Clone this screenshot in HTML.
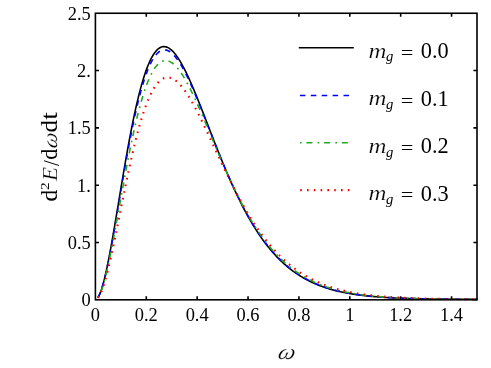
<!DOCTYPE html>
<html><head><meta charset="utf-8"><title>plot</title>
<style>
html,body{margin:0;padding:0;background:#fff;}
svg{display:block;}
text{font-family:"Liberation Serif",serif;fill:#000;}
.t{font-size:18.4px;}
.i{font-style:italic;}
.cm{stroke:#fff;stroke-width:0.22px;}
</style></head><body>
<svg style="will-change:transform" width="491" height="368" viewBox="0 0 491 368">
<rect width="491" height="368" fill="#fff"/>
<path d="M97.85 297.60 L98.80 296.04 L99.74 294.05 L100.69 291.66 L101.64 288.89 L102.59 285.78 L103.54 282.34 L104.49 278.61 L105.44 274.60 L106.38 270.35 L107.33 265.87 L108.28 261.18 L109.23 256.31 L110.18 251.28 L111.13 246.10 L112.08 240.79 L113.02 235.38 L113.97 229.88 L114.92 224.30 L115.87 218.67 L116.82 212.99 L117.77 207.29 L118.72 201.57 L119.67 195.84 L120.61 190.13 L121.56 184.45 L122.51 178.79 L123.46 173.18 L124.41 167.63 L125.36 162.13 L126.31 156.72 L127.25 151.38 L128.20 146.13 L129.15 140.98 L130.10 135.93 L131.05 130.99 L132.00 126.16 L132.95 121.45 L133.89 116.87 L134.84 112.42 L135.79 108.10 L136.74 103.92 L137.69 99.88 L138.64 95.98 L139.59 92.23 L140.54 88.62 L141.48 85.16 L142.43 81.86 L143.38 78.70 L144.33 75.69 L145.28 72.84 L146.23 70.14 L147.18 67.60 L148.12 65.20 L149.07 62.96 L150.02 60.87 L150.97 58.93 L151.92 57.14 L152.87 55.49 L153.82 54.00 L154.76 52.64 L155.71 51.43 L156.66 50.36 L157.61 49.43 L158.56 48.64 L159.51 47.98 L160.46 47.45 L161.41 47.05 L162.35 46.77 L163.30 46.62 L164.25 46.59 L165.20 46.68 L166.15 46.89 L167.10 47.20 L168.05 47.63 L168.99 48.16 L169.94 48.79 L170.89 49.53 L171.84 50.36 L172.79 51.29 L173.74 52.30 L174.69 53.41 L175.63 54.59 L176.58 55.86 L177.53 57.21 L178.48 58.64 L179.43 60.13 L180.38 61.70 L181.33 63.33 L182.28 65.02 L183.22 66.78 L184.17 68.59 L185.12 70.46 L186.07 72.38 L187.02 74.35 L187.97 76.36 L188.92 78.42 L189.86 80.52 L190.81 82.66 L191.76 84.83 L192.71 87.04 L193.66 89.27 L194.61 91.54 L195.56 93.83 L196.50 96.15 L197.45 98.49 L198.40 100.85 L199.35 103.23 L200.30 105.62 L201.25 108.02 L202.20 110.44 L203.14 112.87 L204.09 115.31 L205.04 117.75 L205.99 120.20 L206.94 122.65 L207.89 125.10 L208.84 127.55 L209.79 130.00 L210.73 132.45 L211.68 134.89 L212.63 137.33 L213.58 139.76 L214.53 142.18 L215.48 144.60 L216.43 147.00 L217.37 149.39 L218.32 151.77 L219.27 154.14 L220.22 156.49 L221.17 158.83 L222.12 161.15 L223.07 163.46 L224.01 165.74 L224.96 168.01 L225.91 170.26 L226.86 172.49 L227.81 174.71 L228.76 176.90 L229.71 179.07 L230.66 181.22 L231.60 183.34 L232.55 185.45 L233.50 187.53 L234.45 189.59 L235.40 191.62 L236.35 193.63 L237.30 195.62 L238.24 197.58 L239.19 199.52 L240.14 201.44 L241.09 203.33 L242.04 205.19 L242.99 207.03 L243.94 208.85 L244.88 210.64 L245.83 212.40 L246.78 214.14 L247.73 215.86 L248.68 217.55 L249.63 219.21 L250.58 220.85 L251.53 222.46 L252.47 224.05 L253.42 225.62 L254.37 227.16 L255.32 228.67 L256.27 230.16 L257.22 231.63 L258.17 233.07 L259.11 234.48 L260.06 235.88 L261.01 237.25 L261.96 238.59 L262.91 239.91 L263.86 241.21 L264.81 242.49 L265.75 243.74 L266.70 244.97 L267.65 246.18 L268.60 247.37 L269.55 248.53 L270.50 249.67 L271.45 250.80 L272.40 251.90 L273.34 252.98 L274.29 254.03 L275.24 255.07 L276.19 256.09 L277.14 257.09 L278.09 258.07 L279.04 259.02 L279.98 259.96 L280.93 260.89 L281.88 261.79 L282.83 262.67 L283.78 263.54 L284.73 264.39 L285.68 265.22 L286.62 266.03 L287.57 266.83 L288.52 267.61 L289.47 268.37 L290.42 269.12 L291.37 269.85 L292.32 270.57 L293.27 271.27 L294.21 271.95 L295.16 272.62 L296.11 273.28 L297.06 273.92 L298.01 274.55 L298.96 275.16 L299.91 275.76 L300.85 276.35 L301.80 276.92 L302.75 277.48 L303.70 278.03 L304.65 278.57 L305.60 279.09 L306.55 279.60 L307.49 280.10 L308.44 280.59 L309.39 281.07 L310.34 281.54 L311.29 281.99 L312.24 282.44 L313.19 282.87 L314.14 283.30 L315.08 283.71 L316.03 284.11 L316.98 284.51 L317.93 284.89 L318.88 285.27 L319.83 285.64 L320.78 286.00 L321.72 286.35 L322.67 286.69 L323.62 287.02 L324.57 287.35 L325.52 287.66 L326.47 287.97 L327.42 288.28 L328.36 288.57 L329.31 288.86 L330.26 289.14 L331.21 289.41 L332.16 289.68 L333.11 289.94 L334.06 290.19 L335.00 290.44 L335.95 290.68 L336.90 290.92 L337.85 291.14 L338.80 291.37 L339.75 291.59 L340.70 291.80 L341.65 292.00 L342.59 292.21 L343.54 292.40 L344.49 292.59 L345.44 292.78 L346.39 292.96 L347.34 293.14 L348.29 293.31 L349.23 293.48 L350.18 293.64 L351.13 293.80 L352.08 293.96 L353.03 294.11 L353.98 294.25 L354.93 294.40 L355.87 294.54 L356.82 294.67 L357.77 294.81 L358.72 294.93 L359.67 295.06 L360.62 295.18 L361.57 295.30 L362.52 295.42 L363.46 295.53 L364.41 295.64 L365.36 295.75 L366.31 295.85 L367.26 295.95 L368.21 296.05 L369.16 296.14 L370.10 296.24 L371.05 296.33 L372.00 296.42 L372.95 296.50 L373.90 296.59 L374.85 296.67 L375.80 296.75 L376.74 296.82 L377.69 296.90 L378.64 296.97 L379.59 297.04 L380.54 297.11 L381.49 297.18 L382.44 297.24 L383.39 297.30 L384.33 297.37 L385.28 297.43 L386.23 297.48 L387.18 297.54 L388.13 297.60 L389.08 297.65 L390.03 297.70 L390.97 297.75 L391.92 297.80 L392.87 297.85 L393.82 297.89 L394.77 297.94 L395.72 297.98 L396.67 298.03 L397.61 298.07 L398.56 298.11 L399.51 298.15 L400.46 298.19 L401.41 298.22 L402.36 298.26 L403.31 298.29 L404.26 298.33 L405.20 298.36 L406.15 298.39 L407.10 298.42 L408.05 298.45 L409.00 298.48 L409.95 298.51 L410.90 298.54 L411.84 298.57 L412.79 298.59 L413.74 298.62 L414.69 298.64 L415.64 298.67 L416.59 298.69 L417.54 298.71 L418.48 298.73 L419.43 298.75 L420.38 298.78 L421.33 298.80 L422.28 298.81 L423.23 298.83 L424.18 298.85 L425.13 298.87 L426.07 298.89 L427.02 298.90 L427.97 298.92 L428.92 298.94 L429.87 298.95 L430.82 298.97 L431.77 298.98 L432.71 299.00 L433.66 299.01 L434.61 299.02 L435.56 299.04 L436.51 299.05 L437.46 299.06 L438.41 299.07 L439.35 299.08 L440.30 299.09 L441.25 299.10 L442.20 299.12 L443.15 299.13 L444.10 299.14 L445.05 299.14 L446.00 299.15 L446.94 299.16 L447.89 299.17 L448.84 299.18 L449.79 299.19 L450.74 299.20 L451.69 299.20 L452.64 299.21 L453.58 299.22 L454.53 299.23 L455.48 299.23 L456.43 299.24 L457.38 299.25 L458.33 299.25 L459.28 299.26 L460.22 299.26 L461.17 299.27 L462.12 299.28 L463.07 299.28 L464.02 299.29 L464.97 299.29 L465.92 299.30 L466.87 299.30 L467.81 299.31 L468.76 299.31 L469.71 299.31 L470.66 299.32 L471.61 299.32 L472.56 299.33 L473.51 299.33 L474.45 299.33 L475.40 299.34 L476.35 299.34 L477.30 299.34" fill="none" stroke="#000000" stroke-width="1.6"/>
<path d="M97.85 297.65 L98.80 296.12 L99.74 294.18 L100.69 291.84 L101.64 289.14 L102.59 286.10 L103.54 282.75 L104.49 279.10 L105.44 275.19 L106.38 271.03 L107.33 266.65 L108.28 262.06 L109.23 257.30 L110.18 252.38 L111.13 247.31 L112.08 242.12 L113.02 236.82 L113.97 231.43 L114.92 225.97 L115.87 220.44 L116.82 214.88 L117.77 209.29 L118.72 203.67 L119.67 198.06 L120.61 192.46 L121.56 186.87 L122.51 181.32 L123.46 175.80 L124.41 170.34 L125.36 164.94 L126.31 159.61 L127.25 154.36 L128.20 149.19 L129.15 144.12 L130.10 139.14 L131.05 134.27 L132.00 129.51 L132.95 124.87 L133.89 120.34 L134.84 115.95 L135.79 111.68 L136.74 107.54 L137.69 103.54 L138.64 99.68 L139.59 95.95 L140.54 92.38 L141.48 88.94 L142.43 85.65 L143.38 82.51 L144.33 79.52 L145.28 76.68 L146.23 73.98 L147.18 71.44 L148.12 69.04 L149.07 66.79 L150.02 64.69 L150.97 62.73 L151.92 60.93 L152.87 59.26 L153.82 57.74 L154.76 56.36 L155.71 55.12 L156.66 54.02 L157.61 53.06 L158.56 52.22 L159.51 51.52 L160.46 50.95 L161.41 50.51 L162.35 50.19 L163.30 49.99 L164.25 49.91 L165.20 49.95 L166.15 50.10 L167.10 50.36 L168.05 50.73 L168.99 51.21 L169.94 51.78 L170.89 52.46 L171.84 53.23 L172.79 54.09 L173.74 55.05 L174.69 56.09 L175.63 57.21 L176.58 58.42 L177.53 59.70 L178.48 61.06 L179.43 62.49 L180.38 63.99 L181.33 65.56 L182.28 67.19 L183.22 68.88 L184.17 70.63 L185.12 72.43 L186.07 74.29 L187.02 76.19 L187.97 78.14 L188.92 80.13 L189.86 82.17 L190.81 84.25 L191.76 86.36 L192.71 88.50 L193.66 90.68 L194.61 92.89 L195.56 95.12 L196.50 97.38 L197.45 99.66 L198.40 101.96 L199.35 104.28 L200.30 106.62 L201.25 108.97 L202.20 111.34 L203.14 113.71 L204.09 116.10 L205.04 118.49 L205.99 120.89 L206.94 123.29 L207.89 125.70 L208.84 128.10 L209.79 130.51 L210.73 132.91 L211.68 135.31 L212.63 137.70 L213.58 140.09 L214.53 142.48 L215.48 144.85 L216.43 147.22 L217.37 149.57 L218.32 151.92 L219.27 154.25 L220.22 156.57 L221.17 158.87 L222.12 161.16 L223.07 163.44 L224.01 165.69 L224.96 167.94 L225.91 170.16 L226.86 172.36 L227.81 174.55 L228.76 176.71 L229.71 178.86 L230.66 180.99 L231.60 183.09 L232.55 185.17 L233.50 187.24 L234.45 189.27 L235.40 191.29 L236.35 193.28 L237.30 195.25 L238.24 197.20 L239.19 199.13 L240.14 201.03 L241.09 202.90 L242.04 204.75 L242.99 206.58 L243.94 208.38 L244.88 210.16 L245.83 211.92 L246.78 213.65 L247.73 215.35 L248.68 217.03 L249.63 218.69 L250.58 220.32 L251.53 221.93 L252.47 223.51 L253.42 225.07 L254.37 226.60 L255.32 228.11 L256.27 229.60 L257.22 231.06 L258.17 232.50 L259.11 233.91 L260.06 235.30 L261.01 236.67 L261.96 238.02 L262.91 239.34 L263.86 240.63 L264.81 241.91 L265.75 243.16 L266.70 244.39 L267.65 245.60 L268.60 246.79 L269.55 247.96 L270.50 249.10 L271.45 250.22 L272.40 251.32 L273.34 252.41 L274.29 253.47 L275.24 254.51 L276.19 255.53 L277.14 256.53 L278.09 257.51 L279.04 258.47 L279.98 259.42 L280.93 260.34 L281.88 261.25 L282.83 262.14 L283.78 263.01 L284.73 263.86 L285.68 264.70 L286.62 265.51 L287.57 266.32 L288.52 267.10 L289.47 267.87 L290.42 268.62 L291.37 269.36 L292.32 270.08 L293.27 270.79 L294.21 271.48 L295.16 272.15 L296.11 272.81 L297.06 273.46 L298.01 274.09 L298.96 274.71 L299.91 275.32 L300.85 275.91 L301.80 276.49 L302.75 277.06 L303.70 277.61 L304.65 278.15 L305.60 278.68 L306.55 279.20 L307.49 279.71 L308.44 280.20 L309.39 280.68 L310.34 281.15 L311.29 281.62 L312.24 282.07 L313.19 282.51 L314.14 282.94 L315.08 283.36 L316.03 283.77 L316.98 284.17 L317.93 284.56 L318.88 284.94 L319.83 285.31 L320.78 285.68 L321.72 286.03 L322.67 286.38 L323.62 286.72 L324.57 287.05 L325.52 287.37 L326.47 287.68 L327.42 287.99 L328.36 288.29 L329.31 288.58 L330.26 288.87 L331.21 289.15 L332.16 289.42 L333.11 289.68 L334.06 289.94 L335.00 290.19 L335.95 290.44 L336.90 290.68 L337.85 290.91 L338.80 291.14 L339.75 291.36 L340.70 291.58 L341.65 291.79 L342.59 291.99 L343.54 292.19 L344.49 292.39 L345.44 292.58 L346.39 292.76 L347.34 292.95 L348.29 293.12 L349.23 293.29 L350.18 293.46 L351.13 293.62 L352.08 293.78 L353.03 293.94 L353.98 294.09 L354.93 294.23 L355.87 294.38 L356.82 294.52 L357.77 294.65 L358.72 294.78 L359.67 294.91 L360.62 295.04 L361.57 295.16 L362.52 295.28 L363.46 295.39 L364.41 295.51 L365.36 295.62 L366.31 295.72 L367.26 295.83 L368.21 295.93 L369.16 296.03 L370.10 296.12 L371.05 296.21 L372.00 296.31 L372.95 296.39 L373.90 296.48 L374.85 296.56 L375.80 296.64 L376.74 296.72 L377.69 296.80 L378.64 296.88 L379.59 296.95 L380.54 297.02 L381.49 297.09 L382.44 297.15 L383.39 297.22 L384.33 297.28 L385.28 297.35 L386.23 297.41 L387.18 297.46 L388.13 297.52 L389.08 297.58 L390.03 297.63 L390.97 297.68 L391.92 297.73 L392.87 297.78 L393.82 297.83 L394.77 297.88 L395.72 297.92 L396.67 297.97 L397.61 298.01 L398.56 298.05 L399.51 298.09 L400.46 298.13 L401.41 298.17 L402.36 298.21 L403.31 298.24 L404.26 298.28 L405.20 298.31 L406.15 298.34 L407.10 298.38 L408.05 298.41 L409.00 298.44 L409.95 298.47 L410.90 298.50 L411.84 298.52 L412.79 298.55 L413.74 298.58 L414.69 298.60 L415.64 298.63 L416.59 298.65 L417.54 298.68 L418.48 298.70 L419.43 298.72 L420.38 298.74 L421.33 298.76 L422.28 298.78 L423.23 298.80 L424.18 298.82 L425.13 298.84 L426.07 298.86 L427.02 298.88 L427.97 298.89 L428.92 298.91 L429.87 298.93 L430.82 298.94 L431.77 298.96 L432.71 298.97 L433.66 298.99 L434.61 299.00 L435.56 299.01 L436.51 299.03 L437.46 299.04 L438.41 299.05 L439.35 299.06 L440.30 299.07 L441.25 299.09 L442.20 299.10 L443.15 299.11 L444.10 299.12 L445.05 299.13 L446.00 299.14 L446.94 299.15 L447.89 299.16 L448.84 299.17 L449.79 299.17 L450.74 299.18 L451.69 299.19 L452.64 299.20 L453.58 299.21 L454.53 299.21 L455.48 299.22 L456.43 299.23 L457.38 299.23 L458.33 299.24 L459.28 299.25 L460.22 299.25 L461.17 299.26 L462.12 299.26 L463.07 299.27 L464.02 299.28 L464.97 299.28 L465.92 299.29 L466.87 299.29 L467.81 299.30 L468.76 299.30 L469.71 299.31 L470.66 299.31 L471.61 299.31 L472.56 299.32 L473.51 299.32 L474.45 299.33 L475.40 299.33 L476.35 299.33 L477.30 299.34" fill="none" stroke="#0000ff" stroke-width="1.6" stroke-dasharray="5.5 5.4"/>
<path d="M97.85 297.78 L98.80 296.37 L99.74 294.57 L100.69 292.40 L101.64 289.89 L102.59 287.07 L103.54 283.95 L104.49 280.56 L105.44 276.92 L106.38 273.05 L107.33 268.97 L108.28 264.70 L109.23 260.25 L110.18 255.66 L111.13 250.92 L112.08 246.07 L113.02 241.11 L113.97 236.07 L114.92 230.95 L115.87 225.77 L116.82 220.55 L117.77 215.30 L118.72 210.02 L119.67 204.74 L120.61 199.46 L121.56 194.19 L122.51 188.95 L123.46 183.74 L124.41 178.58 L125.36 173.47 L126.31 168.41 L127.25 163.43 L128.20 158.52 L129.15 153.69 L130.10 148.95 L131.05 144.30 L132.00 139.75 L132.95 135.31 L133.89 130.98 L134.84 126.75 L135.79 122.65 L136.74 118.66 L137.69 114.80 L138.64 111.07 L139.59 107.46 L140.54 103.98 L141.48 100.64 L142.43 97.43 L143.38 94.36 L144.33 91.42 L145.28 88.62 L146.23 85.96 L147.18 83.43 L148.12 81.04 L149.07 78.80 L150.02 76.68 L150.97 74.71 L151.92 72.87 L152.87 71.16 L153.82 69.59 L154.76 68.15 L155.71 66.84 L156.66 65.66 L157.61 64.61 L158.56 63.69 L159.51 62.89 L160.46 62.21 L161.41 61.65 L162.35 61.21 L163.30 60.89 L164.25 60.67 L165.20 60.57 L166.15 60.58 L167.10 60.69 L168.05 60.91 L168.99 61.22 L169.94 61.64 L170.89 62.15 L171.84 62.75 L172.79 63.44 L173.74 64.22 L174.69 65.08 L175.63 66.03 L176.58 67.05 L177.53 68.15 L178.48 69.32 L179.43 70.57 L180.38 71.88 L181.33 73.26 L182.28 74.70 L183.22 76.20 L184.17 77.75 L185.12 79.36 L186.07 81.03 L187.02 82.74 L187.97 84.50 L188.92 86.31 L189.86 88.16 L190.81 90.05 L191.76 91.98 L192.71 93.94 L193.66 95.93 L194.61 97.96 L195.56 100.01 L196.50 102.10 L197.45 104.20 L198.40 106.33 L199.35 108.48 L200.30 110.65 L201.25 112.84 L202.20 115.04 L203.14 117.25 L204.09 119.48 L205.04 121.71 L205.99 123.96 L206.94 126.21 L207.89 128.46 L208.84 130.72 L209.79 132.99 L210.73 135.25 L211.68 137.51 L212.63 139.77 L213.58 142.03 L214.53 144.29 L215.48 146.54 L216.43 148.78 L217.37 151.02 L218.32 153.25 L219.27 155.46 L220.22 157.67 L221.17 159.87 L222.12 162.06 L223.07 164.23 L224.01 166.39 L224.96 168.53 L225.91 170.66 L226.86 172.78 L227.81 174.87 L228.76 176.96 L229.71 179.02 L230.66 181.07 L231.60 183.09 L232.55 185.10 L233.50 187.09 L234.45 189.06 L235.40 191.01 L236.35 192.94 L237.30 194.85 L238.24 196.74 L239.19 198.61 L240.14 200.45 L241.09 202.28 L242.04 204.08 L242.99 205.86 L243.94 207.61 L244.88 209.35 L245.83 211.06 L246.78 212.75 L247.73 214.42 L248.68 216.07 L249.63 217.69 L250.58 219.29 L251.53 220.86 L252.47 222.42 L253.42 223.95 L254.37 225.46 L255.32 226.95 L256.27 228.41 L257.22 229.85 L258.17 231.27 L259.11 232.67 L260.06 234.04 L261.01 235.39 L261.96 236.72 L262.91 238.03 L263.86 239.32 L264.81 240.58 L265.75 241.83 L266.70 243.05 L267.65 244.25 L268.60 245.44 L269.55 246.60 L270.50 247.74 L271.45 248.86 L272.40 249.96 L273.34 251.04 L274.29 252.10 L275.24 253.14 L276.19 254.16 L277.14 255.16 L278.09 256.15 L279.04 257.11 L279.98 258.06 L280.93 258.99 L281.88 259.90 L282.83 260.80 L283.78 261.67 L284.73 262.53 L285.68 263.38 L286.62 264.20 L287.57 265.01 L288.52 265.81 L289.47 266.59 L290.42 267.35 L291.37 268.09 L292.32 268.83 L293.27 269.54 L294.21 270.24 L295.16 270.93 L296.11 271.60 L297.06 272.26 L298.01 272.91 L298.96 273.54 L299.91 274.16 L300.85 274.76 L301.80 275.35 L302.75 275.93 L303.70 276.50 L304.65 277.05 L305.60 277.59 L306.55 278.12 L307.49 278.64 L308.44 279.15 L309.39 279.65 L310.34 280.13 L311.29 280.61 L312.24 281.07 L313.19 281.52 L314.14 281.97 L315.08 282.40 L316.03 282.82 L316.98 283.24 L317.93 283.64 L318.88 284.04 L319.83 284.42 L320.78 284.80 L321.72 285.17 L322.67 285.53 L323.62 285.88 L324.57 286.22 L325.52 286.56 L326.47 286.89 L327.42 287.21 L328.36 287.52 L329.31 287.82 L330.26 288.12 L331.21 288.41 L332.16 288.70 L333.11 288.97 L334.06 289.24 L335.00 289.51 L335.95 289.76 L336.90 290.01 L337.85 290.26 L338.80 290.50 L339.75 290.73 L340.70 290.96 L341.65 291.18 L342.59 291.40 L343.54 291.61 L344.49 291.82 L345.44 292.02 L346.39 292.21 L347.34 292.40 L348.29 292.59 L349.23 292.77 L350.18 292.95 L351.13 293.12 L352.08 293.29 L353.03 293.45 L353.98 293.61 L354.93 293.77 L355.87 293.92 L356.82 294.07 L357.77 294.21 L358.72 294.35 L359.67 294.49 L360.62 294.63 L361.57 294.76 L362.52 294.88 L363.46 295.01 L364.41 295.13 L365.36 295.24 L366.31 295.36 L367.26 295.47 L368.21 295.58 L369.16 295.68 L370.10 295.79 L371.05 295.89 L372.00 295.98 L372.95 296.08 L373.90 296.17 L374.85 296.26 L375.80 296.35 L376.74 296.44 L377.69 296.52 L378.64 296.60 L379.59 296.68 L380.54 296.75 L381.49 296.83 L382.44 296.90 L383.39 296.97 L384.33 297.04 L385.28 297.11 L386.23 297.17 L387.18 297.24 L388.13 297.30 L389.08 297.36 L390.03 297.42 L390.97 297.48 L391.92 297.53 L392.87 297.58 L393.82 297.64 L394.77 297.69 L395.72 297.74 L396.67 297.79 L397.61 297.83 L398.56 297.88 L399.51 297.92 L400.46 297.97 L401.41 298.01 L402.36 298.05 L403.31 298.09 L404.26 298.13 L405.20 298.17 L406.15 298.20 L407.10 298.24 L408.05 298.27 L409.00 298.31 L409.95 298.34 L410.90 298.37 L411.84 298.40 L412.79 298.43 L413.74 298.46 L414.69 298.49 L415.64 298.52 L416.59 298.54 L417.54 298.57 L418.48 298.59 L419.43 298.62 L420.38 298.64 L421.33 298.67 L422.28 298.69 L423.23 298.71 L424.18 298.73 L425.13 298.75 L426.07 298.77 L427.02 298.79 L427.97 298.81 L428.92 298.83 L429.87 298.85 L430.82 298.87 L431.77 298.88 L432.71 298.90 L433.66 298.92 L434.61 298.93 L435.56 298.95 L436.51 298.96 L437.46 298.98 L438.41 298.99 L439.35 299.00 L440.30 299.02 L441.25 299.03 L442.20 299.04 L443.15 299.05 L444.10 299.07 L445.05 299.08 L446.00 299.09 L446.94 299.10 L447.89 299.11 L448.84 299.12 L449.79 299.13 L450.74 299.14 L451.69 299.15 L452.64 299.16 L453.58 299.17 L454.53 299.17 L455.48 299.18 L456.43 299.19 L457.38 299.20 L458.33 299.20 L459.28 299.21 L460.22 299.22 L461.17 299.23 L462.12 299.23 L463.07 299.24 L464.02 299.25 L464.97 299.25 L465.92 299.26 L466.87 299.26 L467.81 299.27 L468.76 299.27 L469.71 299.28 L470.66 299.28 L471.61 299.29 L472.56 299.29 L473.51 299.30 L474.45 299.30 L475.40 299.31 L476.35 299.31 L477.30 299.32" fill="none" stroke="#22aa22" stroke-width="1.6" stroke-dasharray="1.7 4.8 6 5.2"/>
<path d="M97.85 297.98 L98.80 296.74 L99.74 295.15 L100.69 293.24 L101.64 291.02 L102.59 288.53 L103.54 285.77 L104.49 282.77 L105.44 279.54 L106.38 276.10 L107.33 272.48 L108.28 268.68 L109.23 264.72 L110.18 260.62 L111.13 256.40 L112.08 252.06 L113.02 247.63 L113.97 243.11 L114.92 238.52 L115.87 233.87 L116.82 229.18 L117.77 224.45 L118.72 219.69 L119.67 214.92 L120.61 210.15 L121.56 205.38 L122.51 200.62 L123.46 195.89 L124.41 191.19 L125.36 186.53 L126.31 181.91 L127.25 177.35 L128.20 172.85 L129.15 168.42 L130.10 164.05 L131.05 159.77 L132.00 155.56 L132.95 151.44 L133.89 147.42 L134.84 143.48 L135.79 139.65 L136.74 135.92 L137.69 132.29 L138.64 128.77 L139.59 125.37 L140.54 122.07 L141.48 118.89 L142.43 115.82 L143.38 112.88 L144.33 110.05 L145.28 107.34 L146.23 104.75 L147.18 102.28 L148.12 99.93 L149.07 97.70 L150.02 95.59 L150.97 93.61 L151.92 91.74 L152.87 90.00 L153.82 88.37 L154.76 86.86 L155.71 85.47 L156.66 84.20 L157.61 83.04 L158.56 81.99 L159.51 81.06 L160.46 80.23 L161.41 79.52 L162.35 78.91 L163.30 78.41 L164.25 78.01 L165.20 77.71 L166.15 77.51 L167.10 77.41 L168.05 77.40 L168.99 77.49 L169.94 77.67 L170.89 77.94 L171.84 78.29 L172.79 78.73 L173.74 79.25 L174.69 79.85 L175.63 80.53 L176.58 81.28 L177.53 82.10 L178.48 83.00 L179.43 83.96 L180.38 84.99 L181.33 86.08 L182.28 87.24 L183.22 88.45 L184.17 89.72 L185.12 91.04 L186.07 92.41 L187.02 93.84 L187.97 95.31 L188.92 96.82 L189.86 98.38 L190.81 99.98 L191.76 101.62 L192.71 103.30 L193.66 105.01 L194.61 106.76 L195.56 108.53 L196.50 110.33 L197.45 112.17 L198.40 114.02 L199.35 115.90 L200.30 117.81 L201.25 119.73 L202.20 121.67 L203.14 123.63 L204.09 125.60 L205.04 127.58 L205.99 129.58 L206.94 131.59 L207.89 133.61 L208.84 135.64 L209.79 137.67 L210.73 139.70 L211.68 141.75 L212.63 143.79 L213.58 145.84 L214.53 147.88 L215.48 149.93 L216.43 151.97 L217.37 154.01 L218.32 156.04 L219.27 158.07 L220.22 160.10 L221.17 162.12 L222.12 164.13 L223.07 166.13 L224.01 168.13 L224.96 170.11 L225.91 172.08 L226.86 174.04 L227.81 175.99 L228.76 177.93 L229.71 179.85 L230.66 181.76 L231.60 183.66 L232.55 185.54 L233.50 187.41 L234.45 189.26 L235.40 191.09 L236.35 192.91 L237.30 194.71 L238.24 196.49 L239.19 198.26 L240.14 200.01 L241.09 201.74 L242.04 203.45 L242.99 205.14 L243.94 206.82 L244.88 208.47 L245.83 210.11 L246.78 211.72 L247.73 213.32 L248.68 214.90 L249.63 216.46 L250.58 218.00 L251.53 219.51 L252.47 221.01 L253.42 222.49 L254.37 223.95 L255.32 225.39 L256.27 226.81 L257.22 228.21 L258.17 229.59 L259.11 230.95 L260.06 232.29 L261.01 233.60 L261.96 234.90 L262.91 236.18 L263.86 237.45 L264.81 238.69 L265.75 239.91 L266.70 241.11 L267.65 242.29 L268.60 243.46 L269.55 244.60 L270.50 245.73 L271.45 246.84 L272.40 247.93 L273.34 249.00 L274.29 250.05 L275.24 251.09 L276.19 252.11 L277.14 253.11 L278.09 254.09 L279.04 255.05 L279.98 256.00 L280.93 256.93 L281.88 257.85 L282.83 258.75 L283.78 259.63 L284.73 260.49 L285.68 261.34 L286.62 262.18 L287.57 262.99 L288.52 263.80 L289.47 264.58 L290.42 265.36 L291.37 266.11 L292.32 266.86 L293.27 267.59 L294.21 268.30 L295.16 269.00 L296.11 269.69 L297.06 270.36 L298.01 271.02 L298.96 271.67 L299.91 272.30 L300.85 272.92 L301.80 273.53 L302.75 274.13 L303.70 274.71 L304.65 275.28 L305.60 275.84 L306.55 276.39 L307.49 276.93 L308.44 277.46 L309.39 277.97 L310.34 278.47 L311.29 278.97 L312.24 279.45 L313.19 279.92 L314.14 280.39 L315.08 280.84 L316.03 281.28 L316.98 281.72 L317.93 282.14 L318.88 282.55 L319.83 282.96 L320.78 283.36 L321.72 283.75 L322.67 284.12 L323.62 284.50 L324.57 284.86 L325.52 285.21 L326.47 285.56 L327.42 285.90 L328.36 286.23 L329.31 286.56 L330.26 286.87 L331.21 287.18 L332.16 287.48 L333.11 287.78 L334.06 288.07 L335.00 288.35 L335.95 288.63 L336.90 288.90 L337.85 289.16 L338.80 289.42 L339.75 289.67 L340.70 289.91 L341.65 290.15 L342.59 290.39 L343.54 290.62 L344.49 290.84 L345.44 291.06 L346.39 291.27 L347.34 291.48 L348.29 291.68 L349.23 291.88 L350.18 292.07 L351.13 292.26 L352.08 292.44 L353.03 292.62 L353.98 292.80 L354.93 292.97 L355.87 293.13 L356.82 293.30 L357.77 293.46 L358.72 293.61 L359.67 293.76 L360.62 293.91 L361.57 294.05 L362.52 294.19 L363.46 294.33 L364.41 294.46 L365.36 294.59 L366.31 294.72 L367.26 294.84 L368.21 294.97 L369.16 295.08 L370.10 295.20 L371.05 295.31 L372.00 295.42 L372.95 295.53 L373.90 295.63 L374.85 295.73 L375.80 295.83 L376.74 295.92 L377.69 296.02 L378.64 296.11 L379.59 296.20 L380.54 296.28 L381.49 296.37 L382.44 296.45 L383.39 296.53 L384.33 296.61 L385.28 296.69 L386.23 296.76 L387.18 296.83 L388.13 296.90 L389.08 296.97 L390.03 297.04 L390.97 297.10 L391.92 297.17 L392.87 297.23 L393.82 297.29 L394.77 297.35 L395.72 297.40 L396.67 297.46 L397.61 297.51 L398.56 297.57 L399.51 297.62 L400.46 297.67 L401.41 297.72 L402.36 297.76 L403.31 297.81 L404.26 297.86 L405.20 297.90 L406.15 297.94 L407.10 297.98 L408.05 298.02 L409.00 298.06 L409.95 298.10 L410.90 298.14 L411.84 298.17 L412.79 298.21 L413.74 298.24 L414.69 298.28 L415.64 298.31 L416.59 298.34 L417.54 298.37 L418.48 298.40 L419.43 298.43 L420.38 298.46 L421.33 298.49 L422.28 298.51 L423.23 298.54 L424.18 298.57 L425.13 298.59 L426.07 298.61 L427.02 298.64 L427.97 298.66 L428.92 298.68 L429.87 298.70 L430.82 298.73 L431.77 298.75 L432.71 298.77 L433.66 298.78 L434.61 298.80 L435.56 298.82 L436.51 298.84 L437.46 298.86 L438.41 298.87 L439.35 298.89 L440.30 298.91 L441.25 298.92 L442.20 298.94 L443.15 298.95 L444.10 298.97 L445.05 298.98 L446.00 298.99 L446.94 299.01 L447.89 299.02 L448.84 299.03 L449.79 299.04 L450.74 299.05 L451.69 299.07 L452.64 299.08 L453.58 299.09 L454.53 299.10 L455.48 299.11 L456.43 299.12 L457.38 299.13 L458.33 299.14 L459.28 299.15 L460.22 299.15 L461.17 299.16 L462.12 299.17 L463.07 299.18 L464.02 299.19 L464.97 299.19 L465.92 299.20 L466.87 299.21 L467.81 299.22 L468.76 299.22 L469.71 299.23 L470.66 299.24 L471.61 299.24 L472.56 299.25 L473.51 299.25 L474.45 299.26 L475.40 299.26 L476.35 299.27 L477.30 299.28" fill="none" stroke="#ff0000" stroke-width="2.1" stroke-dasharray="1.6 5.2"/>
<rect x="95.4" y="13.25" width="381.60" height="286.55" fill="none" stroke="#000" stroke-width="1.6"/>
<path d="M146.28 299.8 v-3.6 M146.28 13.25 v3.6 M197.16 299.8 v-3.6 M197.16 13.25 v3.6 M248.04 299.8 v-3.6 M248.04 13.25 v3.6 M298.92 299.8 v-3.6 M298.92 13.25 v3.6 M349.80 299.8 v-3.6 M349.80 13.25 v3.6 M400.68 299.8 v-3.6 M400.68 13.25 v3.6 M451.56 299.8 v-3.6 M451.56 13.25 v3.6 M95.4 242.49 h3.6 M477.0 242.49 h-3.6 M95.4 185.18 h3.6 M477.0 185.18 h-3.6 M95.4 127.87 h3.6 M477.0 127.87 h-3.6 M95.4 70.56 h3.6 M477.0 70.56 h-3.6" stroke="#000" stroke-width="1.6" fill="none"/>
<text class="t" x="95.40" y="320.8" text-anchor="middle">0</text>
<text class="t" x="146.28" y="320.8" text-anchor="middle">0.2</text>
<text class="t" x="197.16" y="320.8" text-anchor="middle">0.4</text>
<text class="t" x="248.04" y="320.8" text-anchor="middle">0.6</text>
<text class="t" x="298.92" y="320.8" text-anchor="middle">0.8</text>
<text class="t" x="349.80" y="320.8" text-anchor="middle">1</text>
<text class="t" x="400.68" y="320.8" text-anchor="middle">1.2</text>
<text class="t" x="451.56" y="320.8" text-anchor="middle">1.4</text>
<text class="t" x="90.8" y="306.20" text-anchor="end">0</text>
<text class="t" x="90.8" y="248.89" text-anchor="end">0.5</text>
<text class="t" x="90.8" y="191.58" text-anchor="end">1.</text>
<text class="t" x="90.8" y="134.27" text-anchor="end">1.5</text>
<text class="t" x="90.8" y="76.96" text-anchor="end">2.</text>
<text class="t" x="90.8" y="19.65" text-anchor="end">2.5</text>
<path d="M298.8 47.7 H353.8" stroke="#000000" stroke-width="1.6" fill="none"/>
<text class="cm" transform="translate(368.50,57.50) scale(1.207,1)" font-size="20.59" font-style="italic">m</text><text transform="translate(385.89,61.45) scale(0.993,1)" font-size="14.77" font-style="italic">g</text><text transform="translate(400.79,59.01) scale(1.140,1)" font-size="19.60">=</text><text transform="translate(420.75,58.23) scale(0.985,1)" font-size="22.67">0.0</text>
<path d="M299.9 95.5 H353.8" stroke="#0000ff" stroke-width="1.6" fill="none" stroke-dasharray="5.5 5.4"/>
<text class="cm" transform="translate(368.50,105.30) scale(1.207,1)" font-size="20.59" font-style="italic">m</text><text transform="translate(385.89,109.25) scale(0.993,1)" font-size="14.77" font-style="italic">g</text><text transform="translate(400.79,106.81) scale(1.140,1)" font-size="19.60">=</text><text transform="translate(420.75,106.03) scale(0.985,1)" font-size="22.67">0.1</text>
<path d="M299.9 142.75 H349.5" stroke="#22aa22" stroke-width="1.6" fill="none" stroke-dasharray="1.7 4.8 6 5.2"/>
<text class="cm" transform="translate(368.50,152.55) scale(1.207,1)" font-size="20.59" font-style="italic">m</text><text transform="translate(385.89,156.50) scale(0.993,1)" font-size="14.77" font-style="italic">g</text><text transform="translate(400.79,154.06) scale(1.140,1)" font-size="19.60">=</text><text transform="translate(420.75,153.28) scale(0.985,1)" font-size="22.67">0.2</text>
<path d="M300.2 190.1 H353.8" stroke="#ff0000" stroke-width="2.1" fill="none" stroke-dasharray="1.6 5.2"/>
<text class="cm" transform="translate(368.50,199.90) scale(1.207,1)" font-size="20.59" font-style="italic">m</text><text transform="translate(385.89,203.85) scale(0.993,1)" font-size="14.77" font-style="italic">g</text><text transform="translate(400.79,201.41) scale(1.140,1)" font-size="19.60">=</text><text transform="translate(420.75,200.63) scale(0.985,1)" font-size="22.67">0.3</text>
<text transform="rotate(-90) translate(-201.45,57.28) scale(1.065,1)" font-size="22.03">d</text><text transform="rotate(-90) translate(-189.88,49.40) scale(1.205,1)" font-size="12.84">2</text><text class="cm" transform="rotate(-90) translate(-181.03,57.30) scale(1.042,1)" font-size="21.99" font-style="italic">E</text><text transform="rotate(-90) translate(-165.90,58.98) scale(0.913,1)" font-size="22.87">/</text><text transform="rotate(-90) translate(-159.79,57.28) scale(0.995,1)" font-size="22.03">d</text><text class="cm" transform="rotate(-90) translate(-149.01,57.20) scale(1.027,1) skewX(-12)" font-size="20.90" font-style="italic">ω</text><text transform="rotate(-90) translate(-132.50,57.28) scale(1.136,1)" font-size="22.03">d</text><text transform="rotate(-90) translate(-119.87,57.27) scale(1.181,1)" font-size="23.57">t</text>
<text class="cm" transform="translate(276.89,359.19) scale(1.109,1) skewX(-12)" font-size="21.94" font-style="italic">ω</text>
</svg></body></html>
